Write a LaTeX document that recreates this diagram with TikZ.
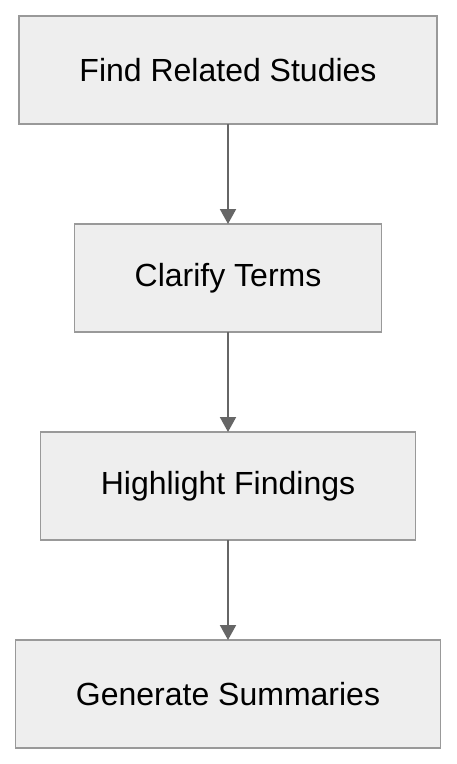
\documentclass[tikz,border=0pt]{standalone}
\usepackage{fontspec}
\setmainfont{Liberation Sans}
\usetikzlibrary{positioning,arrows.meta}
\definecolor{boxfill}{HTML}{EEEEEE}
\definecolor{boxline}{HTML}{999999}
\definecolor{arrowgray}{HTML}{666666}
\begin{document}
\begin{tikzpicture}[node distance=100pt,
    stepbox/.style={draw=boxline, fill=boxfill, line width=1.5pt, minimum height=108pt,
      outer sep=0pt, font=\fontsize{32}{38}\selectfont},
    flow/.style={draw=arrowgray, line width=2pt, -{Triangle[length=15pt,width=16pt]}}]
  \useasboundingbox (0,0) rectangle (456pt,-764pt);
  \node[stepbox, minimum width=418pt] (related) at (228pt,-70pt) {Find Related Studies};
  \node[stepbox, minimum width=307pt, below=of related] (terms) {Clarify Terms};
  \node[stepbox, minimum width=375pt, below=of terms] (findings) {Highlight Findings};
  \node[stepbox, minimum width=425pt, below=of findings] (summaries) {Generate Summaries};
  \draw[flow] (related) -- (terms);
  \draw[flow] (terms) -- (findings);
  \draw[flow] (findings) -- (summaries);
\end{tikzpicture}
\end{document}
